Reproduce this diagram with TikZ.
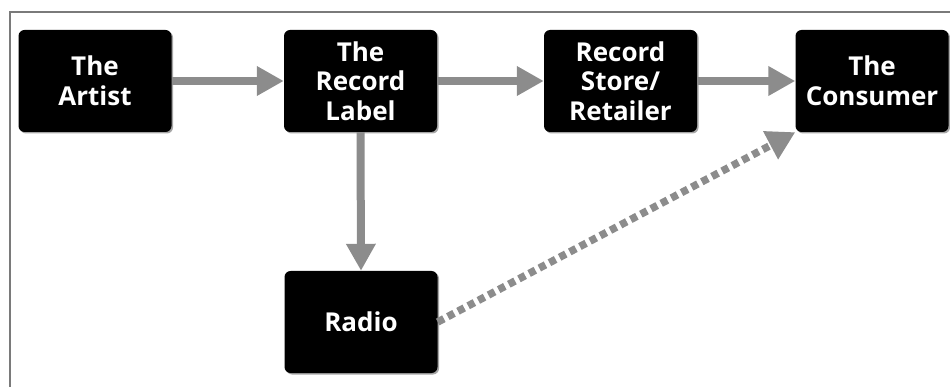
\documentclass[tikz,border=0pt]{standalone}
\usepackage{fontspec}
\setmainfont{Open Sans}
\usetikzlibrary{arrows.meta,shadows}
\definecolor{arrgray}{HTML}{8C8C8C}
\definecolor{framegray}{HTML}{7A7A7A}
\tikzset{
  boxnode/.style={fill=black, rounded corners=6pt, minimum width=153pt, minimum height=102pt,
    inner sep=0pt, text=white, align=center, font=\bfseries\fontsize{26}{29.5}\selectfont,
    drop shadow={shadow xshift=1.5pt, shadow yshift=-1.5pt, opacity=0.35, fill=black}},
  arr/.style={draw=arrgray, line width=8pt, -{Triangle[length=27pt,width=28pt]}},
  dotarr/.style={draw=arrgray, line width=7.5pt, dash pattern=on 7pt off 4.5pt,
    -{Triangle[length=28pt,width=30pt]}}
}
\begin{document}
\begin{tikzpicture}[x=1pt,y=-1pt]
\useasboundingbox (0,0) rectangle (950,387);
\draw[framegray, line width=1.4pt] (10,387) -- (10,12) -- (950,12);
\node[boxnode] (artist) at (95,81) {The\\Artist};
\node[boxnode] (label) at (360.5,81) {The\\Record\\Label};
\node[boxnode] (store) at (620.5,81) {Record\\Store/\\Retailer};
\node[boxnode] (consumer) at (872,81) {The\\Consumer};
\node[boxnode] (radio) at (361,322) {Radio};
\draw[arr] (artist.east) -- (label.west);
\draw[arr] (label.east) -- (store.west);
\draw[arr] (store.east) -- (consumer.west);
\draw[arr] (label.south) -- (radio.north);
\draw[dotarr] (radio.east) -- (consumer.south west);
\end{tikzpicture}
\end{document}
